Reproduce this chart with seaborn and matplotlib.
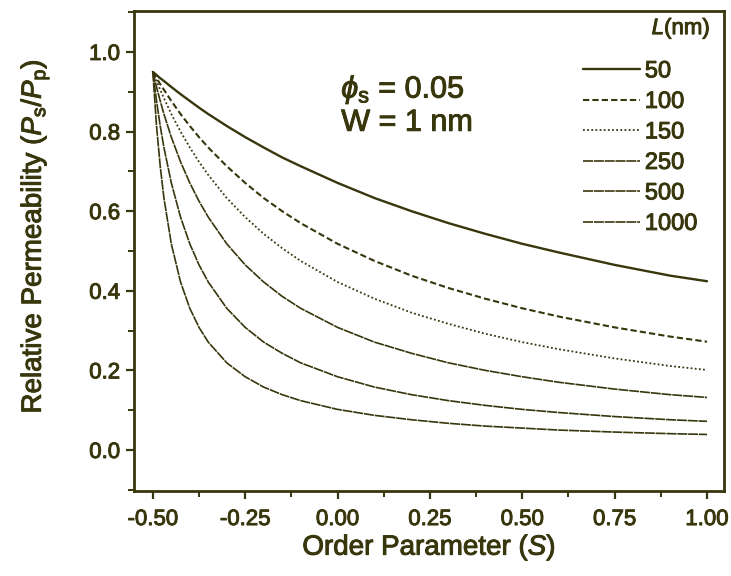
import matplotlib
matplotlib.use("Agg")
import matplotlib.pyplot as plt
import matplotlib.patheffects as pe
import pandas as pd
import seaborn as sns
from matplotlib.ticker import MultipleLocator

# order parameter S and relative permeability
S = [-0.5, -0.49, -0.48, -0.47, -0.45, -0.425, -0.4, -0.375, -0.35, -0.3, -0.25, -0.2,
     -0.15, -0.1, 0.0, 0.1, 0.2, 0.3, 0.4, 0.5, 0.6, 0.75, 0.9, 1.0]
L_nm = ["50", "100", "150", "250", "500", "1000"]
p_50 = [.950, .942, .934, .927, .912, .894, .877, .860, .844, .814, .786, .760,
        .735, .713, .671, .633, .600, .570, .543, .518, .496, .465, .438, .424]
p_100 = [.950, .934, .919, .905, .877, .844, .814, .786, .760, .713, .671, .633,
         .600, .570, .518, .475, .438, .407, .380, .356, .335, .308, .285, .272]
p_150 = [.950, .927, .905, .884, .844, .800, .760, .724, .691, .633, .585, .543,
         .507, .475, .422, .380, .345, .317, .292, .271, .253, .230, .211, .201]
p_250 = [.950, .912, .877, .844, .786, .724, .671, .625, .585, .518, .465, .422,
         .386, .356, .308, .271, .243, .219, .200, .184, .170, .153, .139, .132]
p_500 = [.950, .877, .814, .760, .671, .585, .518, .465, .422, .356, .308, .271,
         .243, .219, .184, .158, .139, .124, .112, .102, .094, .084, .076, .072]
p_1000 = [.950, .814, .713, .633, .518, .422, .356, .308, .271, .219, .184, .158,
          .139, .124, .102, .087, .076, .067, .060, .055, .050, .045, .041, .039]

series = [p_50, p_100, p_150, p_250, p_500, p_1000]
df = pd.concat([pd.DataFrame({"S": S, "P": vals, "L": lab}) for lab, vals in zip(L_nm, series)])

ink = "#38360c"
sns.set_theme(style="ticks")
plt.rcParams["font.family"] = ["Liberation Sans", "DejaVu Sans"]
plt.rcParams["mathtext.fontset"] = "custom"
plt.rcParams["mathtext.rm"] = "Liberation Sans"
plt.rcParams["mathtext.it"] = "Liberation Sans:italic"
plt.rcParams["text.color"] = ink
plt.rcParams["axes.labelcolor"] = ink
heavy = [pe.withStroke(linewidth=0.7, foreground=ink)]

fig = plt.figure(figsize=(7.31, 5.76), dpi=100)
ax = fig.add_axes([0.1833, 0.1476, 0.8071, 0.8334])

dashes = {"50": "", "100": (3, 1.5), "150": (1, 1.3), "250": (6, 0.5), "500": (6, 0.5), "1000": (6, 0.5)}
sns.lineplot(data=df, x="S", y="P", hue="L", style="L", hue_order=L_nm, style_order=L_nm,
             palette=[ink] * 6, dashes=dashes, size="L",
             sizes={"50": 1.7, "100": 1.5, "150": 1.3, "250": 1.2, "500": 1.2, "1000": 1.2},
             ax=ax, legend="full")

ax.set_xlim(-0.551, 1.046)
ax.set_ylim(-0.103, 1.103)
ax.set_xticks([-0.5, -0.25, 0, 0.25, 0.5, 0.75, 1.0])
ax.set_xticklabels(["-0.50", "-0.25", "0.00", "0.25", "0.50", "0.75", "1.00"])
ax.set_yticks([0, 0.2, 0.4, 0.6, 0.8, 1.0])
ax.set_yticklabels(["0.0", "0.2", "0.4", "0.6", "0.8", "1.0"])
ax.xaxis.set_minor_locator(MultipleLocator(0.125))
ax.yaxis.set_minor_locator(MultipleLocator(0.1))
ax.tick_params(which="major", length=6, width=1.6, color=ink, labelcolor=ink, labelsize=16)
ax.tick_params(axis="x", which="major", pad=7)
ax.tick_params(axis="y", which="major", pad=4)
ax.tick_params(which="minor", length=4, width=1.4, color=ink)
for sp in ax.spines.values():
    sp.set_visible(True)
    sp.set_linewidth(2)
    sp.set_color(ink)
for t in ax.get_xticklabels() + ax.get_yticklabels():
    t.set_path_effects(heavy)

ax.set_xlabel(r"Order Parameter ($\mathit{S}$)", fontsize=20, labelpad=2, path_effects=heavy)
ax.set_ylabel(r"Relative Permeability ($\mathit{P}_\mathrm{s}/\mathit{P}_\mathrm{p}$)", fontsize=20,
              path_effects=heavy)
ax.yaxis.set_label_coords(-0.14, 0.53)

ax.text(0.01, 0.905, r"$\mathit{\phi}_\mathrm{s}$ = 0.05", fontsize=22, va="center", ha="left", path_effects=heavy)
ax.text(0.01, 0.822, "W = 1 nm", fontsize=22, va="center", ha="left", path_effects=heavy)
ax.text(0.977, 0.963, r"$\mathit{L}$(nm)", fontsize=16, va="center", ha="right",
        transform=ax.transAxes, path_effects=heavy)

handles, labels = ax.get_legend_handles_labels()
leg = ax.legend(handles, labels, loc="upper left", bbox_to_anchor=(0.761, 0.897),
                frameon=False, fontsize=17, borderpad=0, borderaxespad=0,
                handlelength=2.4, labelspacing=0.36, handletextpad=0.22)
for t in leg.get_texts():
    t.set_path_effects(heavy)

fig.savefig("out.png", dpi=100)
